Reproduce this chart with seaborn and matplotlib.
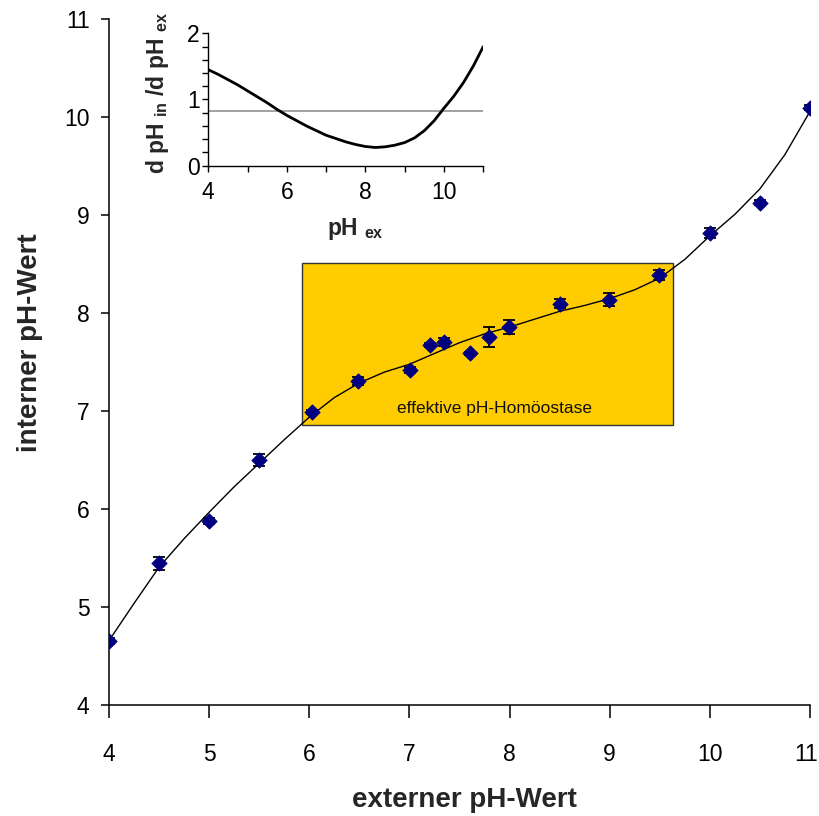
import matplotlib
matplotlib.use("Agg")
import matplotlib.pyplot as plt
from matplotlib.patches import Rectangle
import matplotlib.transforms as mtransforms
import seaborn as sns
import pandas as pd

# ---- data ----
ph_ex = [4.0, 4.5, 5.0, 5.5, 6.03, 6.49, 7.01, 7.21, 7.35, 7.60, 7.79, 7.99, 8.50, 8.99, 9.49, 10.0, 10.5, 11.0]
ph_in = [4.66, 5.45, 5.88, 6.50, 6.99, 7.31, 7.42, 7.68, 7.71, 7.59, 7.76, 7.86, 8.10, 8.14, 8.39, 8.82, 9.13, 10.10]
ph_err = [0.03, 0.065, 0.03, 0.063, 0.02, 0.04, 0.03, 0.02, 0.04, 0.02, 0.105, 0.075, 0.045, 0.065, 0.055, 0.048, 0.03, 0.03]

fit_x = [4.0, 4.25, 4.5, 4.75, 5.0, 5.25, 5.5, 5.75, 6.0, 6.25, 6.5, 6.75, 7.0, 7.25, 7.5, 7.75,
         8.0, 8.25, 8.5, 8.75, 9.0, 9.25, 9.5, 9.75, 10.0, 10.25, 10.5, 10.75, 11.0]
fit_y = [4.66, 5.04, 5.41, 5.70, 5.97, 6.23, 6.47, 6.71, 6.94, 7.14, 7.29, 7.40, 7.48, 7.59, 7.70, 7.79,
         7.86, 7.94, 8.02, 8.08, 8.15, 8.24, 8.36, 8.55, 8.79, 9.01, 9.27, 9.62, 10.06]

deriv_x = [4.0, 4.25, 4.5, 4.75, 5.0, 5.25, 5.5, 5.75, 6.0, 6.25, 6.5, 6.75, 7.0, 7.25, 7.5, 7.75,
           8.0, 8.25, 8.5, 8.75, 9.0, 9.25, 9.5, 9.75, 10.0, 10.25, 10.5, 10.75, 11.0]
deriv_y = [1.45, 1.38, 1.30, 1.22, 1.13, 1.04, 0.95, 0.85, 0.76, 0.68, 0.60, 0.53, 0.46, 0.41, 0.36, 0.32,
           0.29, 0.275, 0.285, 0.31, 0.35, 0.42, 0.53, 0.68, 0.87, 1.05, 1.26, 1.51, 1.80]
ref_level = 0.82

box_x0, box_x1 = 5.93, 9.63
box_y0, box_y1 = 6.86, 8.51
box_label = "effektive pH-Homöostase"
box_label_x, box_label_y = 7.85, 7.03

main_ticks = [4, 5, 6, 7, 8, 9, 10, 11]
inset_xticks = [4, 5, 6, 7, 8, 9, 10, 11]
inset_xlabels = ["4", "", "6", "", "8", "", "10", ""]
inset_yticks = [0, 0.2, 0.4, 0.6, 0.8, 1.0, 1.2, 1.4, 1.6, 1.8, 2.0]
inset_ylabels = ["0", "", "", "", "", "1", "", "", "", "", "2"]

# ---- style ----
sns.set_theme(style="ticks")
plt.rcParams["font.family"] = ["Liberation Sans", "DejaVu Sans"]
plt.rcParams["mathtext.default"] = "regular"
plt.rcParams["axes.linewidth"] = 1.1

df_pts = pd.DataFrame({"x": ph_ex, "y": ph_in, "err": ph_err})
df_fit = pd.DataFrame({"x": fit_x, "y": fit_y})
df_der = pd.DataFrame({"x": deriv_x, "y": deriv_y})

W, H = 820, 816
fig = plt.figure(figsize=(W / 100, H / 100), dpi=100)
fig.patch.set_facecolor("white")

# main axes
ax = fig.add_axes([109 / W, 1 - 705.3 / H, (810 - 109) / W, (705.3 - 19.3) / H])
ax.set_facecolor("none")
ax.add_patch(Rectangle((box_x0, box_y0), box_x1 - box_x0, box_y1 - box_y0,
                       facecolor="#FFCC00", edgecolor="#333333", lw=1.0, zorder=1))
ax.text(box_label_x, box_label_y, box_label, ha="center", va="center", fontsize=12.5, color="#111111", zorder=2)
sns.lineplot(data=df_fit, x="x", y="y", ax=ax, color="black", lw=1.0, zorder=3, sort=False)
ax.errorbar(df_pts["x"], df_pts["y"], yerr=df_pts["err"], fmt="none", ecolor="black",
            elinewidth=1.3, capsize=4.5, capthick=1.3, zorder=4)
sns.scatterplot(data=df_pts, x="x", y="y", ax=ax, marker="D", s=62, color="#000080",
                edgecolor="#000080", linewidth=0.5, zorder=5)
ax.set_xlim(4, 11)
ax.set_ylim(4, 11)
ax.set_xticks(main_ticks)
ax.set_yticks(main_ticks)
ax.set_xlabel("")
ax.set_ylabel("")
sns.despine(ax=ax)
ax.tick_params(axis="y", length=6, width=1.1, pad=8, labelsize=16.5, colors="black")
ax.tick_params(axis="x", length=9, width=1.1, pad=18, labelsize=16.5, colors="black")
for s in ax.spines.values():
    s.set_color("black")
# keep the last x tick label inside the figure
last_lbl = ax.get_xticklabels()[-1]
last_lbl.set_transform(last_lbl.get_transform() +
                       mtransforms.ScaledTranslation(-4 / 100, 0, fig.dpi_scale_trans))

fig.text(30 / W, 1 - 343 / H, "interner pH-Wert", rotation=90, ha="center", va="center",
         fontsize=20, fontweight="bold")
fig.text(464 / W, 1 - 800 / H, "externer pH-Wert", ha="center", va="center",
         fontsize=20, fontweight="bold")

# inset axes
axin = fig.add_axes([208.3 / W, 1 - 165.7 / H, 275 / W, 132.4 / H])
axin.set_facecolor("none")
axin.axhline(ref_level, color="#9a9a9a", lw=1.3, zorder=1)
sns.lineplot(data=df_der, x="x", y="y", ax=axin, color="black", lw=2.0, zorder=2)
axin.set_xlim(4, 11)
axin.set_ylim(0, 2)
axin.set_xticks(inset_xticks)
axin.set_xticklabels(inset_xlabels)
axin.set_yticks(inset_yticks)
axin.set_yticklabels(inset_ylabels)
axin.set_xlabel("")
axin.set_ylabel("")
sns.despine(ax=axin)
axin.tick_params(axis="y", length=4, width=1.0, pad=2, labelsize=16.5, colors="black")
axin.tick_params(axis="x", length=4, width=1.0, pad=7, labelsize=16.5, colors="black")
for s in axin.spines.values():
    s.set_color("black")
    s.set_linewidth(1.0)

fig.text(158 / W, 1 - 93 / H, r"d pH $_{in}$ /d pH $_{ex}$", rotation=90, ha="center", va="center",
         fontsize=16.5, fontweight="bold")
fig.text(355 / W, 1 - 229 / H, r"pH $_{ex}$", ha="center", va="center",
         fontsize=16.5, fontweight="bold")

fig.savefig("out.png", dpi=100, facecolor="white")
